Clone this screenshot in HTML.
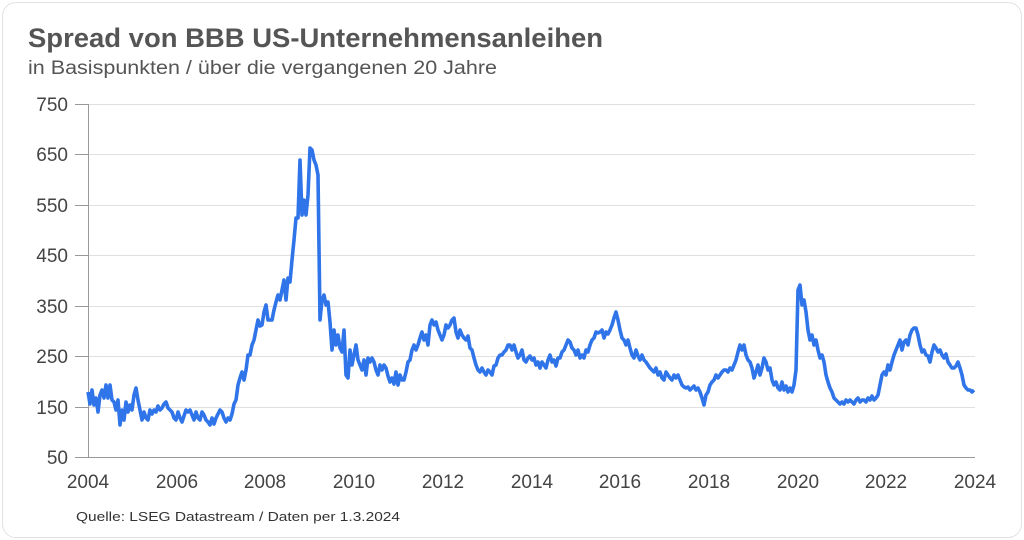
<!DOCTYPE html>
<html><head><meta charset="utf-8"><style>
html,body{margin:0;padding:0;background:#fff;}
body{width:1024px;height:540px;overflow:hidden;font-family:"Liberation Sans",sans-serif;}
.card{position:absolute;left:2px;top:2px;width:1018px;height:534px;border:1px solid #e2e2e2;border-radius:14px;}
</style></head><body>
<div class="card"></div>
<svg width="1024" height="540" style="position:absolute;left:0;top:0" font-family="Liberation Sans, sans-serif">
<text x="28" y="47" font-size="27" font-weight="bold" fill="#555" textLength="575" lengthAdjust="spacingAndGlyphs">Spread von BBB US-Unternehmensanleihen</text>
<text x="28" y="74" font-size="19" fill="#555" textLength="469" lengthAdjust="spacingAndGlyphs">in Basispunkten / über die vergangenen 20 Jahre</text>
<g stroke="#e0e0e0" stroke-width="1">
<line x1="88" x2="975" y1="104.5" y2="104.5"/><line x1="88" x2="975" y1="154.5" y2="154.5"/>
<line x1="88" x2="975" y1="205.5" y2="205.5"/><line x1="88" x2="975" y1="255.5" y2="255.5"/>
<line x1="88" x2="975" y1="306.5" y2="306.5"/><line x1="88" x2="975" y1="356.5" y2="356.5"/>
<line x1="88" x2="975" y1="407.5" y2="407.5"/>
</g>
<g stroke="#999" stroke-width="1"><line x1="75" x2="88" y1="104.5" y2="104.5"/><line x1="75" x2="88" y1="154.5" y2="154.5"/><line x1="75" x2="88" y1="205.5" y2="205.5"/><line x1="75" x2="88" y1="255.5" y2="255.5"/><line x1="75" x2="88" y1="306.5" y2="306.5"/><line x1="75" x2="88" y1="356.5" y2="356.5"/><line x1="75" x2="88" y1="407.5" y2="407.5"/><line x1="75" x2="975" y1="457.5" y2="457.5"/><line x1="88.5" x2="88.5" y1="104" y2="458"/></g>
<g font-size="19" fill="#444" text-anchor="end">
<text x="68" y="111">750</text><text x="68" y="161">650</text><text x="68" y="212">550</text><text x="68" y="262">450</text><text x="68" y="313">350</text><text x="68" y="363">250</text><text x="68" y="414">150</text><text x="68" y="464">50</text>
</g>
<g font-size="19" fill="#444" text-anchor="middle">
<text x="88" y="488">2004</text><text x="177" y="488">2006</text><text x="265" y="488">2008</text><text x="354" y="488">2010</text><text x="443" y="488">2012</text><text x="532" y="488">2014</text><text x="620" y="488">2016</text><text x="709" y="488">2018</text><text x="798" y="488">2020</text><text x="886" y="488">2022</text><text x="975" y="488">2024</text>
</g>
<text x="76" y="521" font-size="13" fill="#333" textLength="324" lengthAdjust="spacingAndGlyphs">Quelle: LSEG Datastream /  Daten per 1.3.2024</text>
<polyline fill="none" stroke="#2f74e8" stroke-width="3.6" stroke-linejoin="round" points="88,392 90,404 92,390 94,405 96,398 98,412 100,395 102,390 104,398 106,385 108,398 110,385 112,400 114,402 116,410 118,400 120,425 122,410 124,420 126,402 128,412 130,405 132,410 134,395 136,388 138,400 140,410 142,420 144,412 146,418 148,420 150,410 152,414 154,410 156,412 158,406 160,410 162,408 164,404 166,402 168,408 170,410 172,412 174,418 176,420 178,412 180,418 182,422 184,416 186,410 188,412 190,410 192,415 194,420 196,412 198,418 200,420 202,412 204,415 206,420 208,422 210,425 212,418 214,424 216,418 218,414 220,410 222,412 224,418 226,422 228,418 230,420 232,414 234,404 236,400 238,385 240,378 242,372 244,380 246,370 248,355 250,355 252,345 254,340 256,330 258,320 260,326 262,325 264,312 266,305 268,320 270,320 272,320 274,310 276,302 278,295 280,300 282,290 284,280 286,300 288,278 290,282 292,260 294,240 296,218 298,218 300,160 302,215 304,200 306,215 308,195 310,148 312,150 314,160 316,165 318,175 320,320 322,300 324,295 326,305 328,302 330,322 332,350 334,330 336,345 338,335 340,348 342,352 344,330 346,375 348,378 350,350 352,365 354,355 356,345 358,360 360,365 362,370 364,360 366,375 368,358 370,362 372,358 374,362 376,370 378,375 380,365 382,370 384,365 386,368 388,376 390,382 392,378 394,384 396,372 398,385 400,375 402,380 404,380 406,372 408,362 410,360 412,350 414,345 416,350 418,345 420,338 422,332 424,340 426,335 428,345 430,325 432,320 434,325 436,322 438,330 440,335 442,340 444,335 446,325 448,328 450,325 452,320 454,318 456,332 458,338 460,330 462,335 464,338 466,340 468,336 470,348 472,350 474,358 476,365 478,370 480,372 482,368 484,372 486,375 488,370 490,372 492,375 494,366 496,365 498,358 500,355 502,355 504,352 506,350 508,345 510,345 512,350 514,345 516,352 518,358 520,355 522,350 524,360 526,362 528,358 530,356 532,360 534,358 536,365 538,362 540,368 542,362 544,365 546,368 548,360 550,355 552,362 554,360 556,366 558,358 560,358 562,352 564,350 566,345 568,340 570,342 572,348 574,350 576,355 578,350 580,358 582,355 584,358 586,350 588,352 590,345 592,340 594,338 596,332 598,333 600,332 602,330 604,338 606,332 608,334 610,330 612,325 614,318 616,312 618,320 620,330 622,338 624,340 626,345 628,340 630,348 632,355 634,358 636,350 638,356 640,360 642,355 644,360 646,362 648,365 650,368 652,370 654,372 656,368 658,375 660,372 662,378 664,380 666,372 668,375 670,378 672,380 674,375 676,378 678,375 680,380 682,385 684,387 686,388 688,387 690,390 692,388 694,386 696,390 698,388 700,392 702,398 704,405 706,395 708,392 710,385 712,382 714,380 716,375 718,378 720,375 722,372 724,370 726,370 728,372 730,368 732,370 734,365 736,360 738,352 740,345 742,350 744,345 746,355 748,360 750,362 752,368 754,378 756,372 758,365 760,375 762,368 764,358 766,362 768,370 770,368 772,380 774,385 776,382 778,388 780,390 782,382 784,390 786,386 788,392 790,388 792,392 794,385 796,370 798,290 800,285 802,305 804,300 806,312 808,330 810,340 812,335 814,345 816,340 818,350 820,358 822,355 824,362 826,375 828,382 830,388 832,392 834,398 836,400 838,402 840,404 842,402 844,404 846,400 848,402 850,400 852,402 854,404 856,400 858,398 860,402 862,400 864,400 866,402 868,398 870,400 872,396 874,400 876,398 878,395 880,385 882,375 884,372 886,375 888,365 890,370 892,362 894,355 896,350 898,345 900,340 902,350 904,342 906,340 908,345 910,335 912,330 914,328 916,328 918,335 920,345 922,352 924,350 926,355 928,356 930,362 932,352 934,345 936,348 938,352 940,350 942,355 944,358 946,354 948,362 950,365 952,368 954,368 956,366 958,362 960,368 962,375 964,385 966,388 968,390 970,390 972,392 974,390"/>
</svg>
</body></html>
